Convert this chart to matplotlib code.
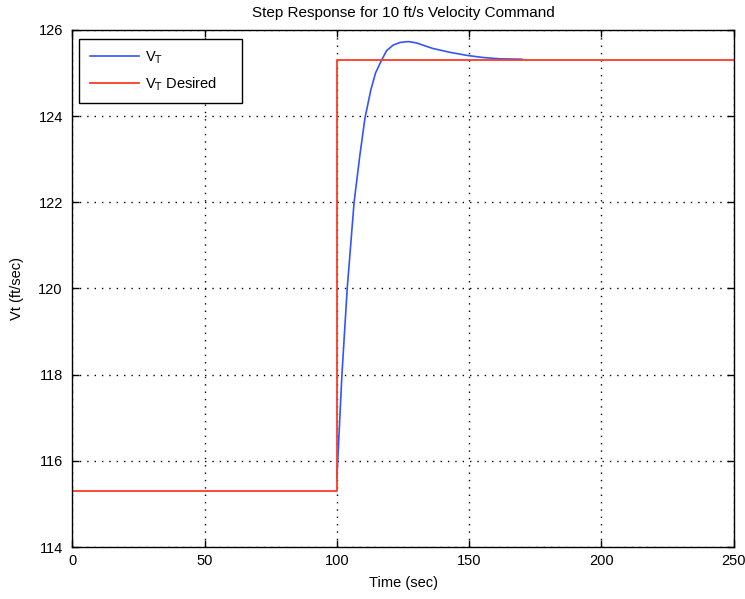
import matplotlib.pyplot as plt

plt.rcParams['font.family'] = ['Liberation Sans', 'DejaVu Sans']

# velocity response (sec, ft/sec)
t_resp = [100.0, 101.9, 103.9, 106.5, 108.7, 110.6, 112.8, 114.6, 116.9, 118.8,
          121.3, 123.9, 127.0, 130.0, 136.3, 142.8, 149.1, 155.3, 161.7, 170.0]
v_resp = [115.6, 118.0, 120.0, 122.0, 123.1, 123.95, 124.6, 125.0, 125.3, 125.52,
          125.65, 125.71, 125.73, 125.70, 125.57, 125.48, 125.41, 125.36, 125.33, 125.32]

# commanded velocity
t_cmd = [0, 100, 100, 250]
v_cmd = [115.3, 115.3, 125.3, 125.3]

xticks = [0, 50, 100, 150, 200, 250]
yticks = [114, 116, 118, 120, 122, 124, 126]

fs = 10.5

fig = plt.figure(figsize=(7.45, 5.99), dpi=100)
ax = fig.add_axes([0.0973, 0.0868, 0.8873, 0.8632])

ax.plot(t_resp, v_resp, color='#3355ff', lw=1.2, label=r'V$_{\mathrm{T}}$')
ax.plot(t_cmd, v_cmd, color='#ff3b22', lw=1.3, label=r'V$_{\mathrm{T}}$ Desired')

ax.set_xlim(0, 250)
ax.set_ylim(114, 126)
ax.set_xticks(xticks)
ax.set_yticks(yticks)
ax.tick_params(direction='in', length=5, width=1, top=True, right=True,
               labelsize=fs)
ax.tick_params(axis='x', pad=5)
ax.tick_params(axis='y', pad=7)
ax.grid(True, color='black', linestyle=(0, (1, 4.3)), linewidth=1.0)
for s in ax.spines.values():
    s.set_linewidth(1.0)

ax.set_title('Step Response for 10 ft/s Velocity Command', fontsize=11, pad=9)
ax.set_xlabel('Time (sec)', fontsize=fs, labelpad=6)
ax.set_ylabel('Vt (ft/sec)', fontsize=fs, labelpad=10)

leg = ax.legend(loc='upper left', bbox_to_anchor=(0.0103, 0.86, 0.2466, 0.1226),
                mode='expand', fontsize=fs, fancybox=False, framealpha=1,
                edgecolor='black', borderaxespad=0, handlelength=3.4,
                handletextpad=0.4, borderpad=0.7, labelspacing=0.62)
leg.get_frame().set_linewidth(1.0)

fig.savefig('out.png', dpi=100)
